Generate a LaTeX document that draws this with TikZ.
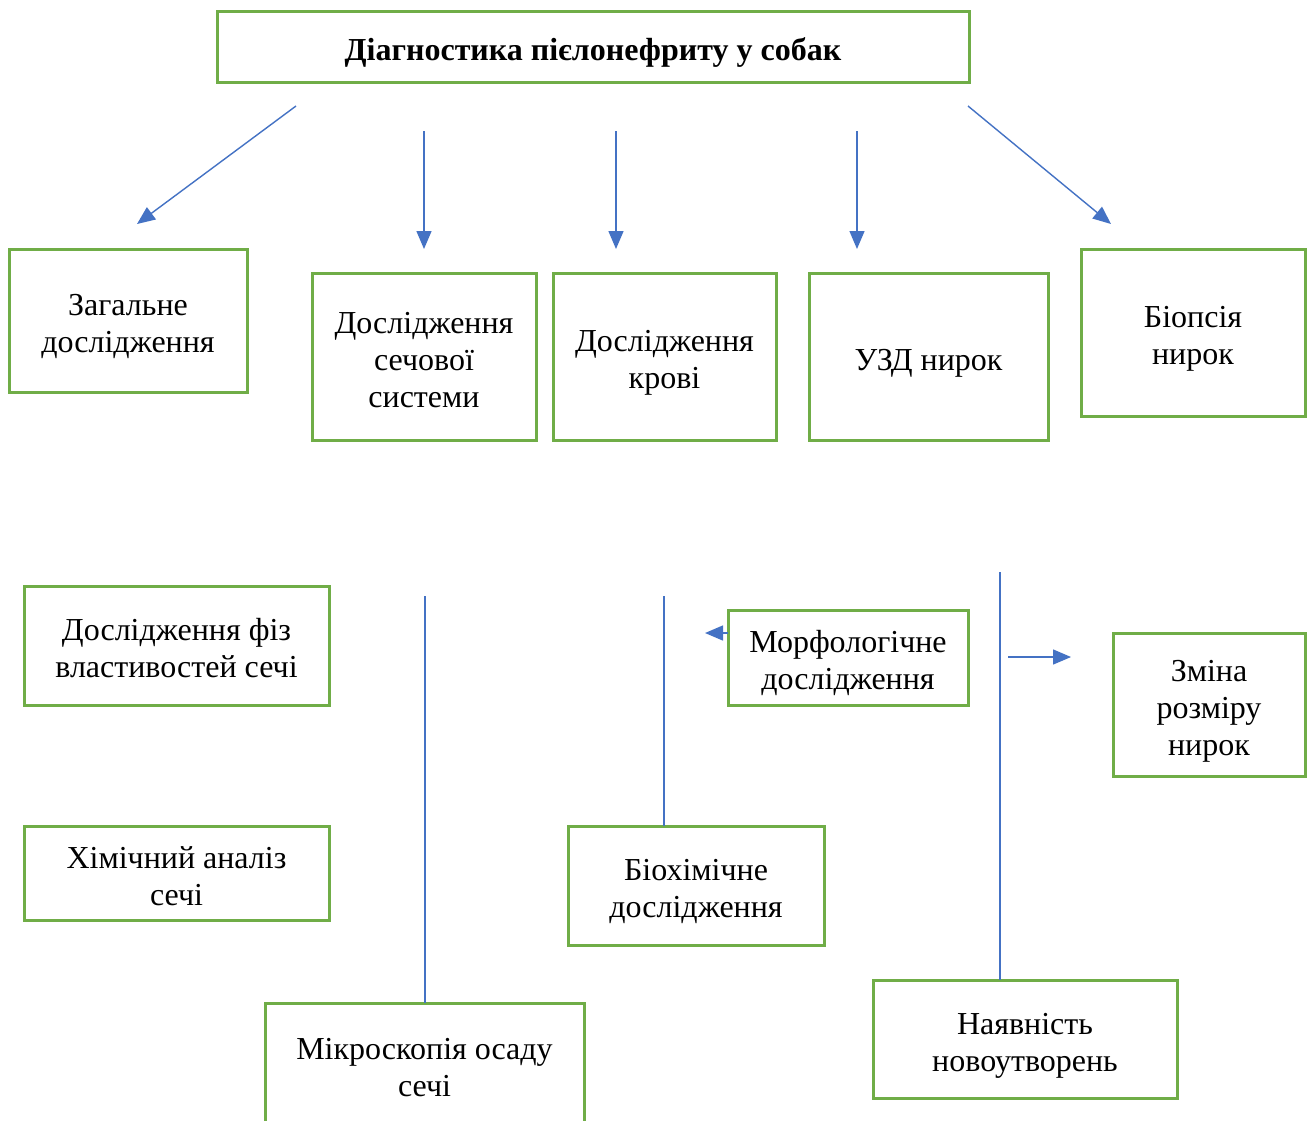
\documentclass[tikz,border=0pt]{standalone}
\usepackage{fontspec}
\setmainfont{Liberation Serif}
\usetikzlibrary{positioning,arrows.meta}
\definecolor{boxgreen}{HTML}{70AD47}
\definecolor{arrowblue}{HTML}{4472C4}
\newcommand{\lift}{\rule{0pt}{17pt}}

\begin{document}
\begin{tikzpicture}[
    x=0.5pt, y=-0.5pt,
    block/.style={rectangle, draw=boxgreen, line width=1.5pt, align=center, inner sep=2pt, outer sep=0pt, font=\fontsize{16}{18.5}\selectfont,
        execute at end node={\rule[-3.5pt]{0pt}{3.5pt}}},
    heading/.style={block, font=\fontsize{16}{18.5}\selectfont\bfseries, minimum width=376pt, minimum height=35.5pt},
    arrow/.style={draw=arrowblue, line width=0.7pt, -{Triangle[length=9pt, width=7.5pt]}},
    link/.style={draw=arrowblue, line width=0.7pt}
]
    \path[use as bounding box, fill=white] (0,0) rectangle (1310,1120);

    \node[heading] (title) at (593,46.5) {\lift Діагностика пієлонефриту у собак};

    \node[block, minimum width=119pt, minimum height=71.5pt] (general) at (128,320.5) {\lift Загальне\\дослідження};
    \node[block, minimum width=112pt, minimum height=83.5pt] (urine) at (424,356.5) {\lift Дослідження\\сечової\\системи};
    \node[block, minimum width=111.5pt, minimum height=83.5pt, right=8.5pt of urine] (blood) {\lift Дослідження\\крові};
    \node[block, minimum width=119.5pt, minimum height=83.5pt, right=16.5pt of blood] (ultra) {\lift УЗД нирок};
    \node[block, minimum width=112pt, minimum height=83.5pt] (biopsy) at (1193,332.5) {\lift Біопсія\\нирок};

    \node[block, minimum width=152.5pt, minimum height=59.5pt] (phys) at (176.5,645.5) {\lift Дослідження фіз\\властивостей сечі};
    \node[block, minimum width=152.5pt, minimum height=47pt, below=60.5pt of phys] (chem) {\lift Хімічний аналіз\\сечі};
    \node[block, minimum width=159.5pt, minimum height=61pt] (micro) at (424.5,1064) {\lift Мікроскопія осаду\\сечі};
    \node[block, minimum width=120pt, minimum height=47.5pt] (morph) at (848,657.5) {\lift Морфологічне\\дослідження};
    \node[block, minimum width=128pt, minimum height=59.5pt] (biochem) at (696,885.5) {\lift Біохімічне\\дослідження};
    \node[block, minimum width=96pt, minimum height=71.5pt] (size) at (1209,704.5) {\lift Зміна\\розміру\\нирок};
    \node[block, minimum width=152pt, minimum height=59pt] (tumor) at (1025,1039) {\lift Наявність\\новоутворень};

    \coordinate (s1) at (296,106);  \coordinate (e1) at (137,224);
    \coordinate (s2) at (424,131);  \coordinate (e2) at (424,249);
    \coordinate (s3) at (616,131);  \coordinate (e3) at (616,249);
    \coordinate (s4) at (857,131);  \coordinate (e4) at (857,249);
    \coordinate (s5) at (968,106);  \coordinate (e5) at (1111,224);
    \coordinate (v1) at (425,596);
    \coordinate (v2) at (664,596);
    \coordinate (v3) at (1000,572);
    \coordinate (mtip) at (705,633);
    \coordinate (rs) at (1008,657);  \coordinate (re) at (1071,657);

    \draw[arrow] (s1) -- (e1);
    \draw[arrow] (s2) -- (e2);
    \draw[arrow] (s3) -- (e3);
    \draw[arrow] (s4) -- (e4);
    \draw[arrow] (s5) -- (e5);
    \draw[link] (v1) -- (v1 |- micro.north);
    \draw[link] (v2) -- (v2 |- biochem.north);
    \draw[link] (v3) -- (v3 |- tumor.north);
    \draw[arrow] (morph.west |- mtip) -- (mtip);
    \draw[arrow] (rs) -- (re);
\end{tikzpicture}
\end{document}
